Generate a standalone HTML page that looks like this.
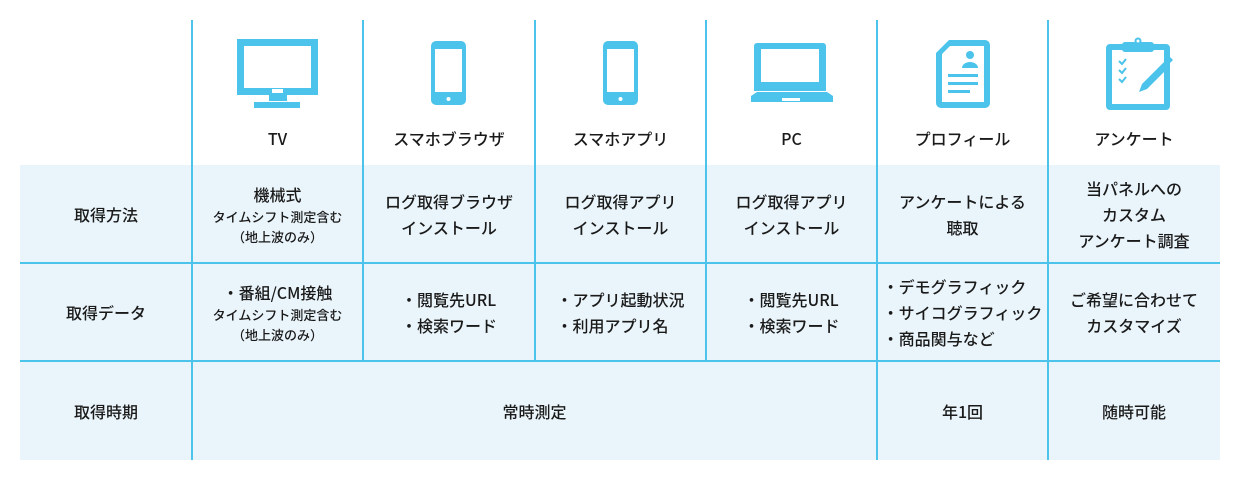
<!DOCTYPE html>
<html><head><meta charset="utf-8"><style>
html,body{margin:0;padding:0;background:#fff;}
body{width:1240px;height:480px;position:relative;overflow:hidden;font-family:"Noto Sans CJK JP","Liberation Sans",sans-serif;font-weight:500;color:#1a1a1a;}
.bg{position:absolute;left:20px;top:165px;width:1200px;height:295px;background:#eaf5fb;}
.v,.h{position:absolute;background:#4bc3ea;}
.c{position:absolute;display:flex;flex-direction:column;align-items:center;justify-content:center;text-align:center;font-size:16px;line-height:26px;}
.s{font-size:13px;line-height:20px;}
.lab{position:absolute;top:126px;font-size:16px;text-align:center;line-height:24px;}
</style></head><body>
<div class="bg"></div>
<div class="h" style="left:20px;top:262px;width:1200px;height:2px"></div>
<div class="h" style="left:20px;top:360px;width:1200px;height:2px"></div>
<div class="v" style="left:191px;top:20px;width:2px;height:440px"></div>
<div class="v" style="left:362px;top:20px;width:2px;height:341px"></div>
<div class="v" style="left:534px;top:20px;width:2px;height:341px"></div>
<div class="v" style="left:705px;top:20px;width:2px;height:341px"></div>
<div class="v" style="left:876px;top:20px;width:2px;height:440px"></div>
<div class="v" style="left:1047px;top:20px;width:2px;height:440px"></div>

<svg style="position:absolute;left:0;top:0" width="1240" height="480">
<g fill="#4bc3ea">
<path fill-rule="evenodd" d="M237 39h81v56h-81zM244 46v42h67v-42z"/>
<rect x="272" y="89" width="11" height="4" fill="#fff"/>
<rect x="269" y="95" width="18" height="6"/>
<rect x="254" y="102" width="46" height="6"/>
<path fill-rule="evenodd" d="M436 41h25a5 5 0 0 1 5 5v54a5 5 0 0 1-5 5h-25a5 5 0 0 1-5-5v-54a5 5 0 0 1 5-5zM435 49v43h27v-43z"/>
<circle cx="448.5" cy="99" r="2" fill="#fff"/>
<path fill-rule="evenodd" d="M608 41h25a5 5 0 0 1 5 5v54a5 5 0 0 1-5 5h-25a5 5 0 0 1-5-5v-54a5 5 0 0 1 5-5zM607 49v43h27v-43z"/>
<circle cx="620.5" cy="99" r="2" fill="#fff"/>
<path fill-rule="evenodd" d="M757 43h66a3 3 0 0 1 3 3v45h-72v-45a3 3 0 0 1 3-3zM761 49v33h58v-33z"/>
<path d="M751 96l6-4h70l6 4v6h-82z"/>
<rect x="782" y="98" width="18" height="3" fill="#fff"/>
<path fill-rule="evenodd" d="M949 40h36a5 5 0 0 1 5 5v58a5 5 0 0 1-5 5h-44a5 5 0 0 1-5-5v-50zM950 46l-8 8v48h42v-56z"/>
<circle cx="970" cy="55" r="4"/>
<path d="M962 68a8 6 0 0 1 16 0z"/>
<rect x="948" y="74" width="30" height="3"/><rect x="948" y="82" width="30" height="3"/><rect x="948" y="90" width="22" height="3"/>
<path fill-rule="evenodd" d="M1110 44h56a4 4 0 0 1 4 4v58a4 4 0 0 1-4 4h-56a4 4 0 0 1-4-4v-58a4 4 0 0 1 4-4zM1112 50v54h52v-54z"/>
<rect x="1122" y="42" width="32" height="10" rx="3"/>
<circle cx="1138" cy="41" r="3.5"/><circle cx="1138" cy="41" r="1.5" fill="#fff"/>
<path d="M1119 61l3 3 4-5" fill="none" stroke="#4bc3ea" stroke-width="2"/>
<path d="M1119 70l3 3 4-5" fill="none" stroke="#4bc3ea" stroke-width="2"/>
<path d="M1119 79l3 3 4-5" fill="none" stroke="#4bc3ea" stroke-width="2"/>
<path d="M1165 61l5 5-23 23-8 3 3-8z"/>
<path d="M1166 59l3-3 4 4-3 3z"/>
</g>
</svg>

<div class="lab" style="left:192px;width:171px">TV</div>
<div class="lab" style="left:363px;width:172px">スマホブラウザ</div>
<div class="lab" style="left:535px;width:171px">スマホアプリ</div>
<div class="lab" style="left:706px;width:171px">PC</div>
<div class="lab" style="left:877px;width:171px">プロフィール</div>
<div class="lab" style="left:1048px;width:172px">アンケート</div>

<div class="c" style="left:20px;top:165px;width:172px;height:98px">取得方法</div>
<div class="c" style="left:192px;top:165px;width:171px;height:98px"><div>機械式</div><div class="s">タイムシフト測定含む</div><div class="s">（地上波のみ）</div></div>
<div class="c" style="left:363px;top:165px;width:172px;height:98px"><div>ログ取得ブラウザ</div><div>インストール</div></div>
<div class="c" style="left:535px;top:165px;width:171px;height:98px"><div>ログ取得アプリ</div><div>インストール</div></div>
<div class="c" style="left:706px;top:165px;width:171px;height:98px"><div>ログ取得アプリ</div><div>インストール</div></div>
<div class="c" style="left:877px;top:165px;width:171px;height:98px"><div>アンケートによる</div><div>聴取</div></div>
<div class="c" style="left:1048px;top:165px;width:172px;height:98px"><div>当パネルへの</div><div>カスタム</div><div>アンケート調査</div></div>

<div class="c" style="left:20px;top:263px;width:172px;height:98px">取得データ</div>
<div class="c" style="left:192px;top:263px;width:171px;height:98px"><div>・番組/CM接触</div><div class="s">タイムシフト測定含む</div><div class="s">（地上波のみ）</div></div>
<div class="c" style="left:363px;top:263px;width:172px;height:98px"><div style="text-align:left">・閲覧先URL<br>・検索ワード</div></div>
<div class="c" style="left:535px;top:263px;width:171px;height:98px"><div style="text-align:left">・アプリ起動状況<br>・利用アプリ名</div></div>
<div class="c" style="left:706px;top:263px;width:171px;height:98px"><div style="text-align:left">・閲覧先URL<br>・検索ワード</div></div>
<div class="c" style="left:877px;top:263px;width:171px;height:98px"><div style="text-align:left;white-space:nowrap">・デモグラフィック<br>・サイコグラフィック<br>・商品関与など</div></div>
<div class="c" style="left:1048px;top:263px;width:172px;height:98px"><div>ご希望に合わせて</div><div>カスタマイズ</div></div>

<div class="c" style="left:20px;top:361px;width:172px;height:99px">取得時期</div>
<div class="c" style="left:192px;top:361px;width:685px;height:99px">常時測定</div>
<div class="c" style="left:877px;top:361px;width:171px;height:99px">年1回</div>
<div class="c" style="left:1048px;top:361px;width:172px;height:99px">随時可能</div>
</body></html>
